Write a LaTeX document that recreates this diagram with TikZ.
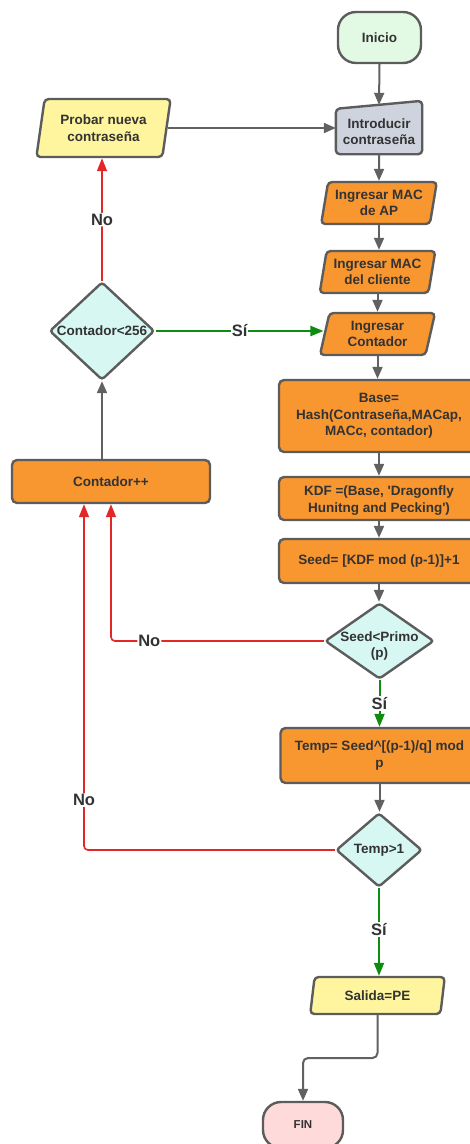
\documentclass[tikz,border=0pt]{standalone}
\usepackage{fontspec}
\setmainfont{Liberation Sans}
\usetikzlibrary{arrows.meta,shapes.geometric,calc,backgrounds}

\definecolor{edge}{HTML}{5C5C5C}
\definecolor{ink}{HTML}{333333}
\definecolor{procfill}{HTML}{F8962F}
\definecolor{iofill}{HTML}{FEF59E}
\definecolor{startfill}{HTML}{E2FAE4}
\definecolor{endfill}{HTML}{FFDADA}
\definecolor{decfill}{HTML}{D6F7F2}
\definecolor{inputfill}{HTML}{CED3DD}
\definecolor{noline}{HTML}{E32626}
\definecolor{yesline}{HTML}{0E8C12}
\definecolor{flowline}{HTML}{616161}

\tikzset{
  outline/.style={draw=edge, line width=2.4pt},
  txt/.style={text=ink, font=\bfseries\fontsize{13.5}{16.5}\selectfont,
    align=center, inner sep=0pt},
  base/.style={outline, txt},
  terminal/.style={base, rectangle, rounded corners=18pt},
  process/.style={base, rectangle, rounded corners=5pt, fill=procfill},
  io/.style={base, trapezium, trapezium left angle=77, trapezium right angle=103,
    trapezium stretches=true, rounded corners=4pt},
  decision/.style={base, diamond, fill=decfill, rounded corners=3pt},
  flow/.style={draw=flowline, line width=2pt, -{Triangle[length=12pt,width=10pt]}},
  yes/.style={draw=yesline, line width=2pt, -{Triangle[length=13pt,width=10pt]}},
  no/.style={draw=noline, line width=1.6pt, rounded corners=4pt,
    -{Triangle[length=13pt,width=10pt]}},
  tag/.style={fill=white, text=ink, font=\bfseries\fontsize{16.5}{18}\selectfont,
    inner sep=1pt},
}

\begin{document}
\begin{tikzpicture}[x=1pt,y=-1pt]
\useasboundingbox (0,0) rectangle (469,1144);

% main column
\node[terminal, fill=startfill, minimum width=83pt, minimum height=51pt] (start) at (379.5,37.5) {Inicio};
\node[base, draw=none, minimum width=84pt, minimum height=43pt] (intro) at (379,131.5) {Introducir\\contraseña};
\begin{scope}[on background layer]
  \draw[outline, fill=inputfill, rounded corners=4pt]
    (intro.north west) -- ($(intro.north east)+(0,-8)$) -- (intro.south east)
    -- (intro.south west) -- cycle;
\end{scope}
\node[io, fill=procfill, minimum width=116pt, minimum height=42pt] (mac1) at (379,203) {Ingresar MAC\\de AP};
\node[io, fill=procfill, minimum width=116pt, minimum height=42pt] (mac2) at (377.5,272) {Ingresar MAC\\del cliente};
\node[io, fill=procfill, minimum width=116pt, minimum height=42pt] (cont) at (377.5,334) {Ingresar\\Contador};
\node[process, minimum width=200pt, minimum height=72pt] (hash) at (379,416) {Base=\\Hash(Contraseña,MACap,\\MACc, contador)};
\node[process, minimum width=200pt, minimum height=43pt] (kdf) at (379,498.5) {\rule{0pt}{14pt}KDF =(Base, \textquotesingle Dragonfly\\Hunitng and Pecking\textquotesingle)};
\node[process, minimum width=200pt, minimum height=44pt] (seed) at (379,561) {Seed= [KDF mod (p-1)]+1};
\node[decision, minimum width=109pt, minimum height=76pt] (d2) at (379.5,641) {};
\node[txt] (d2text) at (379.5,646) {Seed<Primo\\(p)};
\node[process, minimum width=198pt, minimum height=55pt] (temp) at (379.5,755.5) {Temp= Seed\textasciicircum[(p-1)/q] mod\\p};
\node[decision, minimum width=86pt, minimum height=74pt] (d3) at (379,850) {\makebox[0pt]{Temp>1}};
\node[io, fill=iofill, minimum width=135pt, minimum height=37pt] (out) at (377.5,995.5) {Salida=PE};
\node[terminal, fill=endfill, minimum width=80pt, minimum height=46pt,
  font=\bfseries\fontsize{11.5}{14}\selectfont] (fin) at (303,1125) {FIN};

% retry column
\node[io, fill=iofill, minimum width=135pt, minimum height=58pt] (probar) at (103.5,128) {Probar nueva\\contraseña};
\node[decision, minimum width=105pt, minimum height=98pt] (d1) at (102,331) {\makebox[0pt]{Contador<256}};
\node[process, minimum width=198pt, minimum height=43pt] (cnt) at (111,481.5) {Contador++};

% main flow
\draw[flow] (start.south) -- ($(intro.north)+(0,-4)$);
\draw[flow] (intro.south) -- (mac1.north);
\draw[flow] (mac1.south) -- (mac1.south |- mac2.north);
\draw[flow] (mac2.south) -- (mac2.south |- cont.north);
\draw[flow] (cont.south) -- (cont.south |- hash.north);
\draw[flow] (hash.south) -- (kdf.north);
\draw[flow] (kdf.south) -- (seed.north);
\draw[flow] (seed.south) -- (seed.south |- d2.north);
\draw[yes] (d2.south) -- (d2.south |- temp.north) node[tag, midway] {Sí};
\draw[flow] (temp.south) -- (temp.south |- d3.north);
\draw[yes] (d3.south) -- (d3.south |- out.north) node[tag, pos=0.47] {Sí};
\draw[flow, rounded corners=5pt] (out.south) |- ($(out.south)!0.5!(fin.north)$) -| (fin.north);

% retry loop
\draw[flow] (probar.east) -- (probar.east -| intro.west);
\draw[flow] (cnt.north -| d1.south) -- (d1.south);
\draw[yes] (d1.east) -- (d1.east -| cont.west) node[tag, midway] {Sí};
\draw[no] (d1.north) -- (d1.north |- probar.south) node[tag, midway] {No};
\draw[no] (d2.west) -| (cnt.south) node[tag, pos=0.41] {No};
\draw[no] (d3.west) -| ($(cnt.south)+(-27,0)$) node[tag, pos=0.572] {No};
\end{tikzpicture}
\end{document}
